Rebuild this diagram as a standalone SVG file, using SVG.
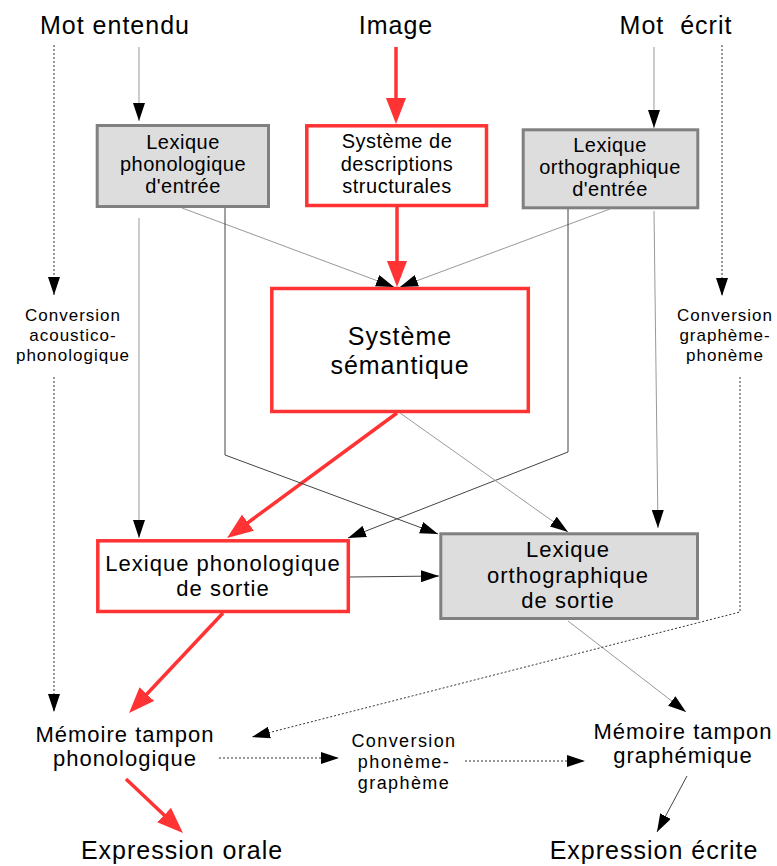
<svg xmlns="http://www.w3.org/2000/svg" width="777" height="866" viewBox="0 0 777 866">
<style>
text{font-family:"Liberation Sans",Arial,sans-serif;fill:#000;text-anchor:middle}
.big{font-size:25px;letter-spacing:1px}
.mem{font-size:22px;letter-spacing:1px}
.box{font-size:20px;letter-spacing:0.5px}
.conv{font-size:17px;letter-spacing:1px}
.convc{font-size:18px;letter-spacing:1.4px}
.gray{fill:#dddddd;stroke:#808080;stroke-width:3}
.red{fill:#fff;stroke:#ff3333;stroke-width:3.5}
.ln{fill:none;stroke:#444;stroke-width:1}
.lg{fill:none;stroke:#999;stroke-width:1}
.dot{fill:none;stroke:#333;stroke-width:1;stroke-dasharray:2,2}
.rl{fill:none;stroke:#ff3333;stroke-width:3.5}
</style>
<defs>
<marker id="ab" viewBox="0 0 18 12" refX="18" refY="6" markerWidth="18" markerHeight="12" markerUnits="userSpaceOnUse" orient="auto">
<path d="M0,0 L18,6 L0,12 z" fill="#000"/>
</marker>
<marker id="ar" viewBox="0 0 26 20" refX="16" refY="10" markerWidth="26" markerHeight="20" markerUnits="userSpaceOnUse" orient="auto">
<path d="M0,0 L26,10 L0,20 z" fill="#ff3333"/>
</marker>
</defs>

<g id="labels">
<text class="big" x="115" y="34">Mot entendu</text>
<text class="big" x="396" y="34">Image</text>
<text class="big" x="676" y="34" xml:space="preserve">Mot  écrit</text>
</g>

<g id="lex-phon-entree">
<rect class="gray" x="97.2" y="125.5" width="171.3" height="81"/>
<text class="box" x="183" y="149">Lexique</text>
<text class="box" x="183" y="171">phonologique</text>
<text class="box" x="183" y="193">d'entrée</text>
</g>

<g id="sys-descriptions">
<rect class="red" x="306.8" y="125.8" width="179.7" height="79.7"/>
<text class="box" x="397" y="148">Système de</text>
<text class="box" x="397" y="171">descriptions</text>
<text class="box" x="397" y="193">structurales</text>
</g>

<g id="lex-ortho-entree">
<rect class="gray" x="523.2" y="129.8" width="174.6" height="78"/>
<text class="box" x="610" y="152">Lexique</text>
<text class="box" x="610" y="174">orthographique</text>
<text class="box" x="610" y="196">d'entrée</text>
</g>

<g id="sys-semantique">
<rect class="red" x="271.8" y="288.5" width="256.5" height="123"/>
<text class="big" x="400" y="345">Système</text>
<text class="big" x="400" y="374">sémantique</text>
</g>

<g id="conv-acoustico">
<text class="conv" x="73" y="321">Conversion</text>
<text class="conv" x="73" y="341">acoustico-</text>
<text class="conv" x="73" y="361">phonologique</text>
</g>

<g id="conv-grapheme-phoneme">
<text class="conv" x="725" y="321">Conversion</text>
<text class="conv" x="725" y="341">graphème-</text>
<text class="conv" x="725" y="361">phonème</text>
</g>

<g id="lex-phon-sortie">
<rect class="red" x="97.8" y="540.8" width="250.5" height="70.7"/>
<text class="mem" x="223" y="571">Lexique phonologique</text>
<text class="mem" x="223" y="596">de sortie</text>
</g>

<g id="lex-ortho-sortie">
<rect class="gray" x="440.8" y="533.8" width="256.7" height="84.7"/>
<text class="mem" x="568" y="557">Lexique</text>
<text class="mem" x="568" y="583">orthographique</text>
<text class="mem" x="568" y="608">de sortie</text>
</g>

<g id="memoire-phon">
<text class="mem" x="125" y="742">Mémoire tampon</text>
<text class="mem" x="125" y="766">phonologique</text>
</g>

<g id="conv-phoneme-grapheme">
<text class="convc" x="404" y="747">Conversion</text>
<text class="convc" x="404" y="768">phonème-</text>
<text class="convc" x="404" y="789">graphème</text>
</g>

<g id="memoire-graph">
<text class="mem" x="683" y="739">Mémoire tampon</text>
<text class="mem" x="683" y="763">graphémique</text>
</g>

<g id="expressions">
<text class="big" x="182" y="859">Expression orale</text>
<text class="big" x="654" y="859">Expression écrite</text>
</g>

<g id="connectors">
<path class="rl" d="M396,47 L396,114" marker-end="url(#ar)"/>
<path class="rl" d="M397,207 L397,277" marker-end="url(#ar)"/>
<path class="rl" d="M397,413 L235.1,532.1" marker-end="url(#ar)"/>
<path class="rl" d="M223,613 L135.9,705.8" marker-end="url(#ar)"/>
<path class="rl" d="M126,779 L175.7,826.1" marker-end="url(#ar)"/>
<path class="lg" d="M139,47 L139,121" marker-end="url(#ab)"/>
<path class="lg" d="M654,47 L654,128" marker-end="url(#ab)"/>
<path class="lg" d="M182,208 L394,287" marker-end="url(#ab)"/>
<path class="lg" d="M610,209 L400,287" marker-end="url(#ab)"/>
<path class="lg" d="M139,218 L139,538" marker-end="url(#ab)"/>
<path class="ln" d="M225,208 L225,455 L438,534" marker-end="url(#ab)"/>
<path class="ln" d="M568,209 L568,452 L348,538" marker-end="url(#ab)"/>
<path class="lg" d="M654,211 L658,528" marker-end="url(#ab)"/>
<path class="lg" d="M400,413 L568,532" marker-end="url(#ab)"/>
<path class="ln" d="M350,577 L439,576" marker-end="url(#ab)"/>
<path class="lg" d="M568,621 L686,712" marker-end="url(#ab)"/>
<path class="ln" d="M687,776 L657,832" marker-end="url(#ab)"/>
<path class="dot" d="M54,45 L54,295" marker-end="url(#ab)"/>
<path class="dot" d="M54,377 L54,712" marker-end="url(#ab)"/>
<path class="dot" d="M722,45 L722,296" marker-end="url(#ab)"/>
<path class="dot" d="M740,377 L740,612 L252,737" marker-end="url(#ab)"/>
<path class="dot" d="M219,758 L339,758" marker-end="url(#ab)"/>
<path class="dot" d="M465,761 L585,761" marker-end="url(#ab)"/>
</g>
</svg>
